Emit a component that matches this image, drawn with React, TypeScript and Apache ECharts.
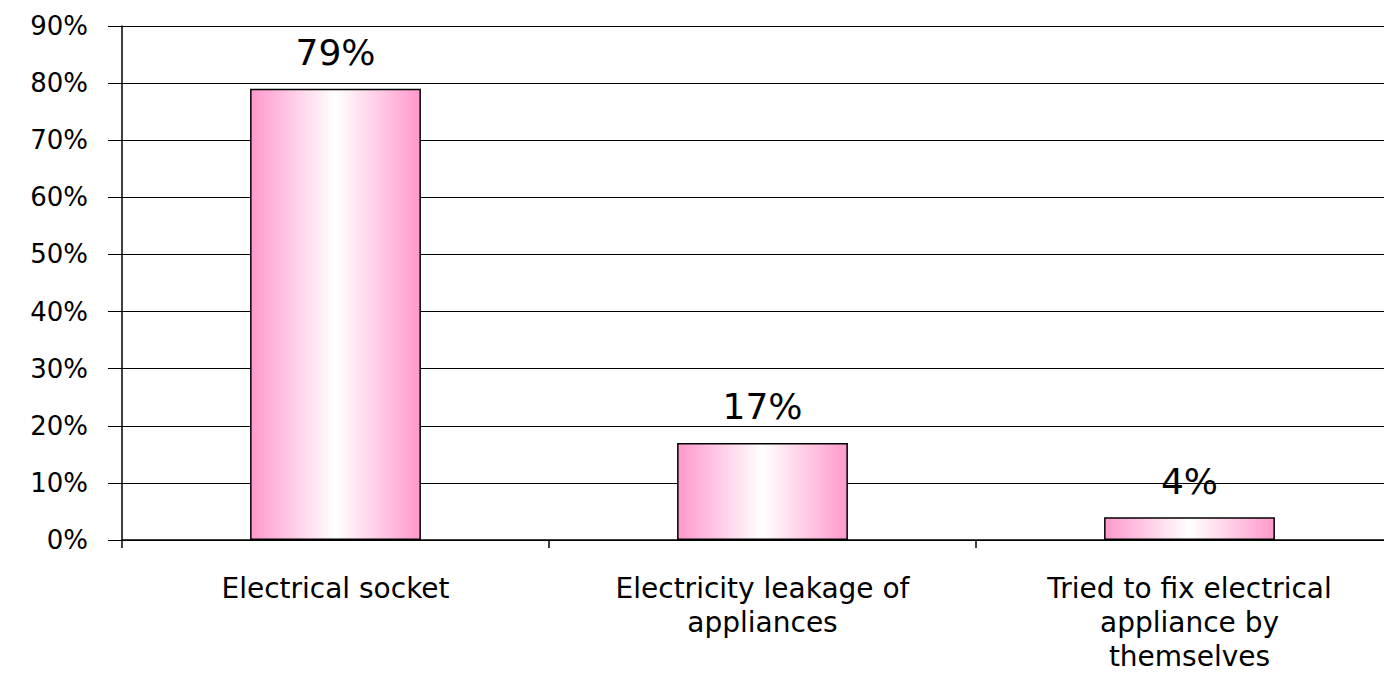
import React, { useEffect, useRef } from "react";
import * as echarts from "echarts";

const categories = [
  "Electrical socket",
  "Electricity leakage of\nappliances",
  "Tried to fix electrical\nappliance by\nthemselves",
];
const values = [79, 17, 4];
const yTicks = { min: 0, max: 90, interval: 10 };

const FONT = "DejaVu Sans";

export default function App() {
  const ref = useRef<HTMLDivElement>(null);
  useEffect(() => {
    const chart = echarts.init(ref.current!, null, { renderer: "svg" });
    chart.setOption({
      animation: false,
      backgroundColor: "#ffffff",
      grid: { left: 122, right: 17, top: 26, bottom: 144, containLabel: false },
      xAxis: {
        type: "category",
        data: categories,
        axisLine: { lineStyle: { color: "#000", width: 1.5 } },
        axisTick: { show: true, length: 8, lineStyle: { color: "#000", width: 1.5 } },
        axisLabel: {
          color: "#000",
          fontFamily: FONT,
          fontSize: 28,
          lineHeight: 34,
          margin: 31,
          interval: 0,
        },
      },
      yAxis: {
        type: "value",
        min: yTicks.min,
        max: yTicks.max,
        interval: yTicks.interval,
        axisLine: { show: true, lineStyle: { color: "#000", width: 1.5 } },
        axisTick: { show: true, length: 14, lineStyle: { color: "#000", width: 1 } },
        splitLine: { show: true, lineStyle: { color: "#000", width: 1 } },
        axisLabel: {
          color: "#000",
          fontFamily: FONT,
          fontSize: 26,
          margin: 34,
          formatter: (v: number) => v + "%",
        },
      },
      series: [
        {
          type: "bar",
          data: values,
          barWidth: "40%",
          itemStyle: {
            borderColor: "#000",
            borderWidth: 1.5,
            color: new echarts.graphic.LinearGradient(0, 0, 1, 0, [
              { offset: 0, color: "#ff99cc" },
              { offset: 0.5, color: "#ffffff" },
              { offset: 1, color: "#ff99cc" },
            ]),
          },
          label: {
            show: true,
            position: "top",
            distance: 18,
            color: "#000",
            fontFamily: FONT,
            fontSize: 36,
            formatter: (p: any) => p.value + "%",
          },
        },
      ],
    });
    return () => chart.dispose();
  }, []);
  return (
    <div
      ref={ref}
      style={{ position: "fixed", left: 0, top: 0, width: 1420, height: 684 }}
    />
  );
}
